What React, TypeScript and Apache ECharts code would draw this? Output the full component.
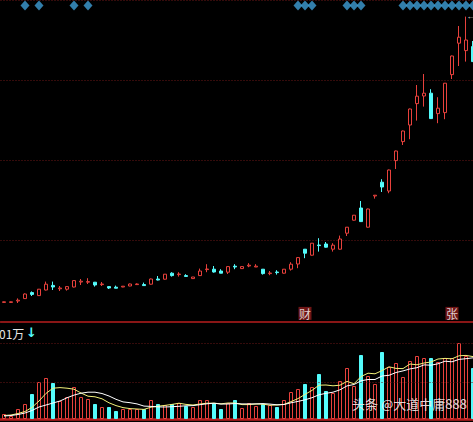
import React, { useEffect, useRef } from 'react';
import * as echarts from 'echarts';

const categories = ['1','2','3','4','5','6','7','8','9','10','11','12','13','14','15','16','17','18','19','20','21','22','23','24','25','26','27','28','29','30','31','32','33','34','35','36','37','38','39','40','41','42','43','44','45','46','47','48','49','50','51','52','53','54','55','56','57','58','59','60','61','62','63','64','65','66','67','68'];

const open = [4.88,4.88,4.95,5.07,5.37,5.22,5.50,5.73,5.56,5.54,5.65,5.90,5.89,5.89,5.77,5.67,5.64,5.65,5.70,5.77,5.77,5.79,6.05,6.04,6.34,6.27,6.22,6.07,6.22,6.52,6.54,6.45,6.39,6.69,6.57,6.70,6.65,6.54,6.32,6.40,6.34,6.54,6.80,7.54,7.24,7.75,7.80,7.54,7.54,8.34,8.99,9.60,8.64,10.20,10.89,10.45,11.97,12.92,13.75,14.82,15.20,15.34,14.32,14.37,16.27,17.84,17.47,17.67];
const close = [4.91,4.91,4.99,5.30,5.28,5.54,5.79,5.65,5.60,5.67,5.97,5.94,5.92,5.75,5.80,5.60,5.59,5.69,5.80,5.80,5.72,6.05,6.00,6.29,6.22,6.30,6.18,6.15,6.45,6.55,6.40,6.34,6.67,6.65,6.67,6.74,6.69,6.32,6.35,6.37,6.54,6.79,7.12,7.34,7.84,7.72,7.64,7.74,8.05,8.64,9.24,8.92,9.55,10.24,10.65,11.50,12.45,13.45,14.55,15.19,15.34,14.07,14.59,15.84,17.20,18.14,18.00,16.92];
const low = [4.87,4.87,4.85,5.05,5.20,5.20,5.48,5.50,5.45,5.47,5.63,5.75,5.80,5.67,5.70,5.55,5.59,5.64,5.69,5.75,5.72,5.77,5.98,6.02,6.17,6.17,6.18,6.07,6.20,6.39,6.37,6.34,6.30,6.54,6.55,6.64,6.65,6.27,6.24,6.27,6.32,6.47,6.59,7.09,7.22,7.42,7.62,7.42,7.52,8.20,8.97,8.90,8.62,10.07,10.40,10.34,11.55,12.75,13.04,13.97,14.67,14.05,13.84,14.04,16.05,16.70,16.92,16.90];
const high = [4.92,4.92,5.08,5.33,5.43,5.55,5.92,5.92,5.70,5.69,5.98,6.05,6.09,5.90,5.90,5.69,5.72,5.70,5.82,5.83,5.87,6.07,6.20,6.30,6.39,6.39,6.29,6.15,6.57,6.79,6.70,6.54,6.68,6.79,6.68,6.84,6.79,6.55,6.45,6.49,6.55,6.89,7.14,7.55,7.85,8.09,7.90,7.84,8.22,8.65,9.25,9.95,9.57,10.24,11.04,11.52,12.47,13.47,14.57,15.75,16.30,15.54,15.14,15.85,17.22,18.70,19.17,17.95];

const volume = [5,3,10,15,25,37,41,36,18,22,32,22,20,15,12,12,8,10,10,10,10,19,15,14,15,16,13,12,19,19,16,10,16,19,11,16,13,15,14,12,19,27,30,35,32,45,28,26,38,51,33,64,43,35,67,52,56,42,58,63,61,61,57,61,61,76,63,51];
const volMA5 = [3.5,4,5.5,7.5,11.6,18,25.6,30.8,31.4,30.8,29.8,26,22.8,22.2,20.2,16.2,13.4,11.4,10.4,10,9.6,11.8,12.8,13.6,14.6,15.8,14.6,14,15,15.8,15.8,15.2,16,16,14.4,14.4,15,14.8,13.8,14,14.6,17.4,20.4,24.6,28.6,33.8,34,33.2,33.8,37.6,35.2,42.4,45.8,45.2,48.4,52.2,50.6,50.4,55,54.2,56,57,60,60.6,60.2,63.2,63.6,62.4];
const volMA10 = [3,3.5,4.5,6,8.5,12,14,16,18,21.2,23.9,25.8,26.8,26.8,25.5,23,19.7,17.1,16.3,15.1,12.9,12.6,12.1,12,12.3,12.7,13.2,13.4,14.3,15.2,15.8,14.9,15,15.5,15.1,15.1,15.1,15.4,14.9,14.2,14.5,16.2,17.6,19.2,21.3,24.2,25.7,26.8,29.2,33.1,34.5,38.2,39.5,39.5,43,43.7,46.5,48.1,50.1,51.3,54.1,53.8,55.2,57.8,57.2,59.6,60.3,61.2];

const priceTicks = { min: 4, max: 20, interval: 4 };
const volTicks = [37, 76];
const volMax = 97;

const signalIdx = [3,5,10,12,42,43,44,49,50,51,57,58,59,60,61,62,63,64,65,66,67];
const signalLevel = 19.72;
const events = [ { idx: 43, text: '财' }, { idx: 64, text: '张' } ];
const eventLevel = 4.33;

const volumeLabel = '01万';
const watermark = '头条 @大道中庸888';

const RED = '#e8413c';
const CYAN = '#54fcfc';
const GRID_RED = '#6a1616';
const LINE_RED = '#b81e1e';
const CJK = '"Noto Sans CJK SC", "Noto Sans", sans-serif';
const DOTS = [1, 2];

export default function App() {
  const ref = useRef<HTMLDivElement>(null);
  useEffect(() => {
    document.body.style.margin = '0';
    document.body.style.background = '#000';
    const chart = echarts.init(ref.current!, undefined, { renderer: 'svg' });
    const candles = open.map((o, i) => [o, close[i], low[i], high[i]]);
    const volData = volume.map((v, i) => ({
      value: v,
      itemStyle: close[i] >= open[i]
        ? { color: '#000', borderColor: RED, borderWidth: 1 }
        : { color: CYAN, borderColor: CYAN, borderWidth: 1 },
    }));
    const option: any = {
      animation: false,
      backgroundColor: '#000',
      grid: [
        { left: 0.5, right: 0.5, top: 0, height: 320, outerBoundsMode: 'none' },
        { left: 0.5, right: 0.5, top: 322, height: 97, outerBoundsMode: 'none' },
      ],
      xAxis: [
        {
          type: 'category', gridIndex: 0, data: categories, boundaryGap: true, offset: 2,
          axisLine: { show: true, lineStyle: { color: LINE_RED, width: 1.5 } },
          axisTick: { show: false }, axisLabel: { show: false }, splitLine: { show: false },
        },
        {
          type: 'category', gridIndex: 1, data: categories, boundaryGap: true, offset: 1.5,
          axisLine: { show: true, lineStyle: { color: LINE_RED, width: 2.5 } },
          axisTick: { show: false }, axisLabel: { show: false }, splitLine: { show: false },
        },
      ],
      yAxis: [
        {
          type: 'value', gridIndex: 0, min: priceTicks.min, max: priceTicks.max, interval: priceTicks.interval,
          axisLine: { show: false }, axisTick: { show: false }, axisLabel: { show: false },
          splitLine: { show: true, showMinLine: false, lineStyle: { color: GRID_RED, type: DOTS, width: 1 } },
        },
        {
          type: 'value', gridIndex: 1, min: 0, max: volMax,
          axisLine: { show: false }, axisTick: { show: false }, axisLabel: { show: false },
          splitLine: { show: false },
        },
      ],
      series: [
        {
          type: 'candlestick', xAxisIndex: 0, yAxisIndex: 0, data: candles, barWidth: 4,
          itemStyle: { color: '#000', color0: CYAN, borderColor: RED, borderColor0: CYAN, borderWidth: 1 },
          markPoint: {
            symbol: 'rect', symbolSize: 1, itemStyle: { color: 'transparent' },
            label: { show: true, position: 'right', distance: 0, formatter: '←', color: '#e0e0e0', fontSize: 8 },
            data: [{ type: 'max', valueDim: 'highest' }],
          },
        },
        {
          type: 'scatter', xAxisIndex: 0, yAxisIndex: 0, symbol: 'diamond', symbolSize: [9, 10],
          itemStyle: { color: '#3f9dd6' },
          data: signalIdx.map((i) => [i, signalLevel]),
          z: 3,
        },
        {
          type: 'scatter', xAxisIndex: 0, yAxisIndex: 0, symbol: 'rect', symbolSize: [13, 13],
          itemStyle: { color: '#8a1a1a' },
          label: { show: true, position: 'inside', color: '#ffffff', fontSize: 12, fontFamily: CJK },
          data: events.map((e) => ({ value: [e.idx, eventLevel], label: { formatter: e.text } })),
          z: 4,
        },
        {
          type: 'bar', xAxisIndex: 1, yAxisIndex: 1, data: volData, barWidth: 4,
          markLine: {
            silent: true, symbol: 'none', label: { show: false },
            lineStyle: { color: GRID_RED, type: DOTS, width: 1 },
            data: volTicks.map((v) => ({ yAxis: v })),
          },
        },
        {
          type: 'line', xAxisIndex: 1, yAxisIndex: 1, data: volMA5, symbol: 'none',
          lineStyle: { color: '#f2f27a', width: 1 }, z: 5,
        },
        {
          type: 'line', xAxisIndex: 1, yAxisIndex: 1, data: volMA10, symbol: 'none',
          lineStyle: { color: '#ffffff', width: 1 }, z: 5,
        },
      ],
      graphic: [
        { type: 'text', z: 100, left: -1, top: 327, style: { text: volumeLabel, fill: '#e6e6e6', font: '12px ' + CJK } },
        { type: 'text', z: 100, left: 26, top: 326, style: { text: '↓', fill: CYAN, font: 'bold 13px "DejaVu Sans", sans-serif' } },
        { type: 'text', z: 100, left: 352, top: 397, style: { text: watermark, fill: 'rgba(235,235,235,0.92)', font: '13px ' + CJK } },
      ],
    };
    chart.setOption(option);
    return () => chart.dispose();
  }, []);
  return (
    <div style={{ position: 'fixed', left: 0, top: 0, width: 473, height: 422, overflow: 'hidden', background: '#000' }}>
      <div ref={ref} style={{ width: 477, height: 422 }} />
    </div>
  );
}
